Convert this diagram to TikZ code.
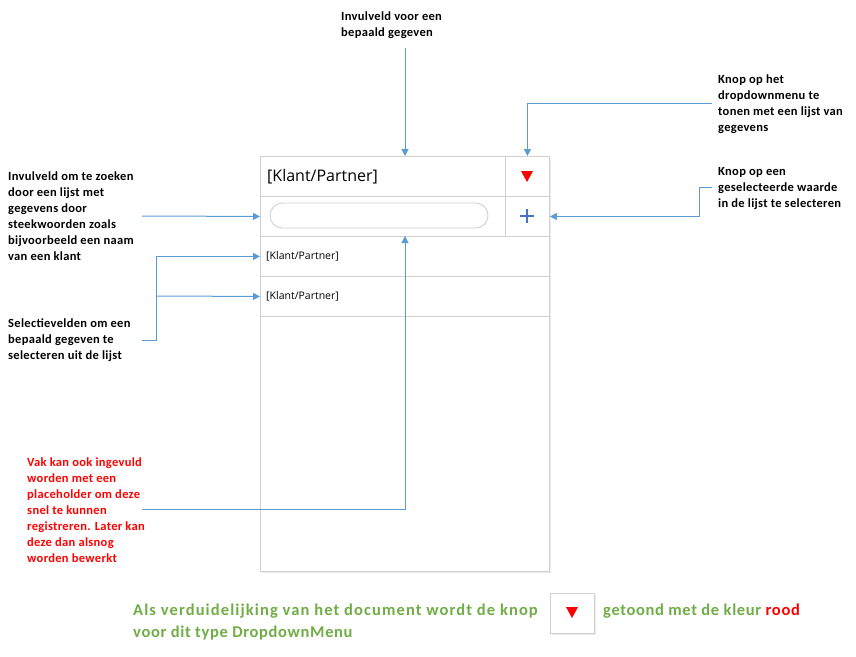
\documentclass[tikz,border=0pt]{standalone}
\usepackage{fontspec}
\setmainfont{Carlito}
\newfontfamily\uifont{Open Sans}
\newfontfamily\notefont[LetterSpace=2.5]{Carlito}
\newfontfamily\legfont[LetterSpace=4.0]{Carlito}
\newfontfamily\legwidefont[LetterSpace=6.7]{Carlito}
\usetikzlibrary{arrows.meta}
\definecolor{arrowblue}{RGB}{91,155,213}
\definecolor{boxgray}{RGB}{208,208,208}
\definecolor{plusblue}{RGB}{68,114,196}
\definecolor{notegreen}{RGB}{112,173,71}
\definecolor{notered}{RGB}{255,0,0}
\begin{document}
\begin{tikzpicture}[x=1pt,y=-1pt,
  note/.style={font=\notefont\bfseries\fontsize{12.5}{16}\selectfont, align=left, anchor=north west, inner sep=0pt},
  legend/.style={anchor=west, inner sep=0pt, text=notegreen, font=\legfont\bfseries\fontsize{16.5}{20}\selectfont},
  conn/.style={draw=arrowblue, line width=1pt, -{Triangle[length=7pt,width=7pt]}},
  cell/.style={draw=boxgray, line width=0.9pt, anchor=north west, inner sep=0pt, fill=white},
  tri/.style={fill=red, draw=none}]
\useasboundingbox (0,0) rectangle (856,656);
% frame
\fill[gray!15] (262,158) rectangle (551,573);
\node[cell, minimum width=289pt, minimum height=415pt] (frame) at (260,156) {};
\node[cell, minimum width=245pt, minimum height=40pt] (head) at (260,156) {};
\node[cell, minimum width=44pt, minimum height=40pt] (btn1) at (505,156) {};
\node[cell, minimum width=245pt, minimum height=40pt] (search) at (260,196) {};
\node[cell, minimum width=44pt, minimum height=40pt] (btn2) at (505,196) {};
\node[cell, minimum width=289pt, minimum height=40pt] (item1) at (260,236) {};
\node[cell, minimum width=289pt, minimum height=40pt] (item2) at (260,276) {};
\node[draw=boxgray, line width=0.9pt, rounded corners=12.5pt, minimum width=218pt, minimum height=25pt, inner sep=0pt] (pill) at (379,215.5) {};
\node[anchor=west, inner sep=0pt, font=\uifont\fontsize{16}{19}\selectfont] (headtxt) at (267,177) {[Klant/Partner]};
\node[anchor=west, inner sep=0pt, font=\uifont\fontsize{10.5}{12}\selectfont] (it1txt) at (266,256) {[Klant/Partner]};
\node[anchor=west, inner sep=0pt, font=\uifont\fontsize{10.5}{12}\selectfont] (it2txt) at (266,296) {[Klant/Partner]};
\fill[tri] (521,171) -- (533,171) -- (527,182) -- cycle;
\draw[plusblue, line width=2pt] (520,216) -- (534,216) (527,209) -- (527,223);
% annotations
\node[note] (n1) at (341,12) {Invulveld voor een\\bepaald gegeven};
\node[note] (n2) at (718,75) {Knop op het\\dropdownmenu te\\tonen met een lijst van\\gegevens};
\node[note] (n3) at (718,167) {Knop op een\\geselecteerde waarde\\in de lijst te selecteren};
\node[note] (n4) at (8,172) {Invulveld om te zoeken\\door een lijst met\\gegevens door\\steekwoorden zoals\\bijvoorbeeld een naam\\van een klant};
\node[note] (n5) at (8,319) {Selectievelden om een\\bepaald gegeven te\\selecteren uit de lijst};
\node[note, text=notered] (n6) at (27,458) {Vak kan ook ingevuld\\worden met een\\placeholder om deze\\snel te kunnen\\registreren. Later kan\\deze dan alsnog\\worden bewerkt};
% connector points
\coordinate (c1s) at (405,48);
\coordinate (c1e) at (405,156);
\coordinate (c2s) at (712,103);
\coordinate (c3s) at (712,187);
\coordinate (c4s) at (142,216);
\coordinate (c5s) at (142,340);
\coordinate (c6s) at (142,509);
\coordinate (c6e) at (405,236);
\draw[conn] (c1s) -- (c1e);
\draw[conn] (c2s) -| (btn1.north);
\draw[conn] (c3s) -- (699,187) |- (btn2.east);
\draw[conn] (c4s) -- (search.west);
\draw[conn] (c5s) -- (156,340) |- (item1.west);
\draw[conn] (156,296) -- (item2.west);
\draw[conn] (c6s) -| (c6e);
% bottom legend
\node[legend, font=\legwidefont\bfseries\fontsize{16.5}{20}\selectfont] (g1) at (133,611) {Als verduidelijking van het document wordt de knop};
\node[legend] (g2) at (133,633) {voor dit type DropdownMenu};
\fill[gray!15] (552,595) rectangle (596,635);
\node[cell, minimum width=44pt, minimum height=40pt] (legbtn) at (550,593) {};
\fill[tri] (566,607) -- (578,607) -- (572,618) -- cycle;
\node[legend] (g3) at (603,611) {getoond met de kleur \textcolor{notered}{rood}};
\end{tikzpicture}
\end{document}
